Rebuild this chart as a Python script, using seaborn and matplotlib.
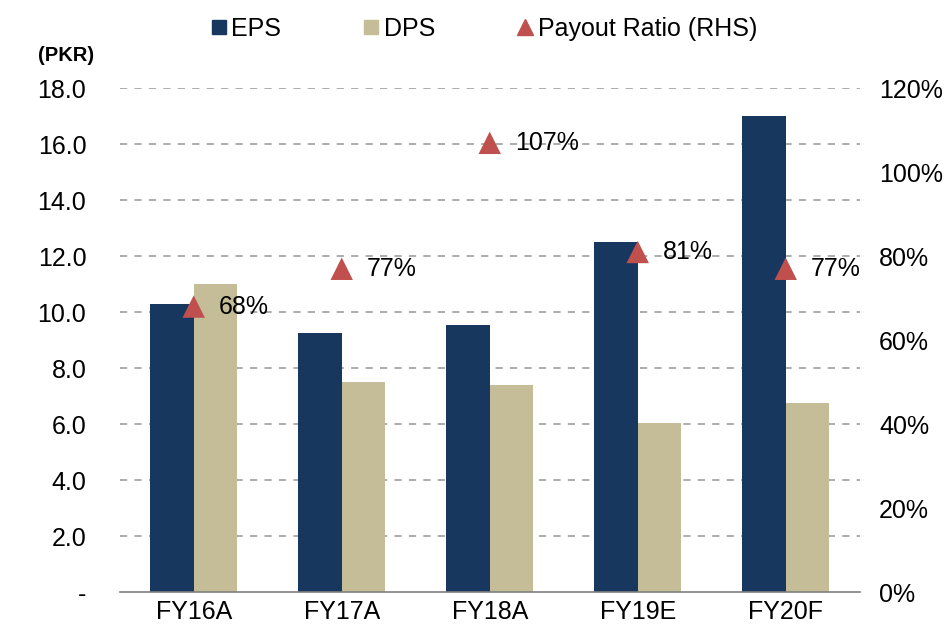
import matplotlib
matplotlib.use("Agg")
import matplotlib.pyplot as plt
from matplotlib.lines import Line2D
import seaborn as sns
import pandas as pd

# Earnings and dividends per share (PKR) with payout ratio (%)
years = ["FY16A", "FY17A", "FY18A", "FY19E", "FY20F"]
eps = [10.3, 9.25, 9.55, 12.5, 17.0]
dps = [11.0, 7.5, 7.4, 6.05, 6.75]
payout = [68, 77, 107, 81, 77]
payout_labels = ["68%", "77%", "107%", "81%", "77%"]
left_ticks = [0, 2, 4, 6, 8, 10, 12, 14, 16, 18]
left_tick_labels = ["-", "2.0", "4.0", "6.0", "8.0", "10.0", "12.0", "14.0", "16.0", "18.0"]
right_ticks = [0, 20, 40, 60, 80, 100, 120]
right_tick_labels = ["0%", "20%", "40%", "60%", "80%", "100%", "120%"]

NAVY = "#17375E"
TAN = "#C4BD97"
RED = "#C0504D"
GRID = "#A6A6A6"
FS = 18

sns.set_style("white")
plt.rcParams["font.family"] = ["Liberation Sans", "DejaVu Sans"]
plt.rcParams["text.color"] = "black"
plt.rcParams["xtick.color"] = "black"
plt.rcParams["ytick.color"] = "black"

df = pd.DataFrame({
    "year": years * 2,
    "value": eps + dps,
    "series": ["EPS"] * len(years) + ["DPS"] * len(years),
})

fig = plt.figure(figsize=(9.5, 6.35), dpi=100)
ax = fig.add_axes([0.126, 0.0677, 0.779, 0.7933])

sns.barplot(data=df, x="year", y="value", hue="series", order=years,
            hue_order=["EPS", "DPS"], palette=[NAVY, TAN], width=0.59,
            saturation=1, ax=ax, legend=False, edgecolor="none")

ax.set_ylim(0, 18)
ax.set_xlim(-0.5, len(years) - 0.5)
ax.set_yticks(left_ticks)
ax.set_yticklabels(left_tick_labels)
ax.set_xlabel("")
ax.set_ylabel("")
for y in left_ticks[1:]:
    ax.axhline(y, color=GRID, lw=1.3, ls=(0, (4, 4)), zorder=0)

for s in ["top", "right", "left"]:
    ax.spines[s].set_visible(False)
ax.spines["bottom"].set_color("#808080")
ax.spines["bottom"].set_linewidth(1.2)

ax.set_xticks([i - 0.5 for i in range(len(years) + 1)], minor=True)
ax.tick_params(axis="x", which="minor", length=10, width=1.2, color="#808080", direction="out")
ax.tick_params(axis="x", which="major", length=0, labelsize=FS, pad=6)
ax.tick_params(axis="y", length=0, labelsize=FS, pad=24)

ax2 = ax.twinx()
ax2.set_ylim(0, 120)
ax2.set_yticks(right_ticks)
ax2.set_yticklabels(right_tick_labels)
ax2.tick_params(axis="y", length=0, labelsize=FS, pad=14)
for s in ax2.spines.values():
    s.set_visible(False)

sns.scatterplot(x=list(range(len(years))), y=payout, marker="^", s=260,
                color=RED, edgecolor="none", ax=ax2, zorder=5, legend=False)
for i, (v, lab) in enumerate(zip(payout, payout_labels)):
    ax2.annotate(lab, (i, v), xytext=(18, 0), textcoords="offset points",
                 va="center", ha="left", fontsize=FS)

fig.text(0.04, 0.913, "(PKR)", fontsize=14.5, fontweight="bold", va="center")

handles = [
    Line2D([], [], marker="s", ls="none", color=NAVY, markersize=10),
    Line2D([], [], marker="s", ls="none", color=TAN, markersize=10),
    Line2D([], [], marker="^", ls="none", color=RED, markersize=12),
]
fig.legend(handles, ["EPS", "DPS", "Payout Ratio (RHS)"], loc="center",
           bbox_to_anchor=(0.507, 0.955), ncol=3, frameon=False, fontsize=FS,
           handletextpad=0.0, columnspacing=3.1, handlelength=1.0)

fig.savefig("out.png", dpi=100)
